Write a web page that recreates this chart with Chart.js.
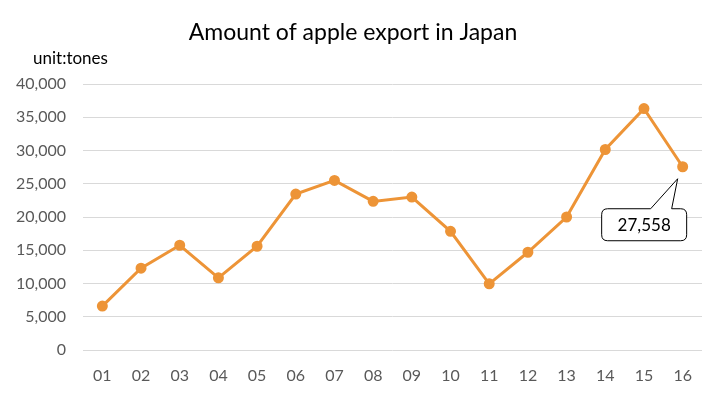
<!DOCTYPE html>
<html>
<head>
<meta charset="utf-8">
<script src="https://cdn.jsdelivr.net/npm/chart.js@4/dist/chart.umd.min.js"></script>
<style>
  html, body { margin: 0; padding: 0; background: #fff; }
  #wrap { width: 720px; height: 395px; }
</style>
</head>
<body>
<div id="wrap"><canvas id="exportChart"></canvas></div>
<script>
const years = ['01', '02', '03', '04', '05', '06', '07', '08', '09', '10', '11', '12', '13', '14', '15', '16'];
const tonnes = [6600, 12300, 15750, 10850, 15600, 23450, 25500, 22350, 23000, 17850, 9950, 14700, 20000, 30150, 36300, 27558];
const yTicks = [0, 5000, 10000, 15000, 20000, 25000, 30000, 35000, 40000];

const chartTitle = 'Amount of apple export in Japan';
const unitLabel = 'unit:tones';
const fontName = 'Lato, "Liberation Sans", sans-serif';

// titulo, unidade e o balao do ultimo ponto
const extras = {
    id: 'extras',
    afterDraw(chart) {
        const c = chart.ctx;
        c.save();
        c.fillStyle = '#000';
        c.textAlign = 'center';
        c.textBaseline = 'middle';
        c.font = '23px ' + fontName;
        c.fillText(chartTitle, 353, 33);
        c.textAlign = 'left';
        c.font = '17px ' + fontName;
        c.fillText(unitLabel, 33, 59);

        const last = tonnes.length - 1;
        const p = chart.getDatasetMeta(0).data[last];
        const l = p.x - 81, r = p.x + 4, t = p.y + 42, b = p.y + 74, rad = 6;
        c.beginPath();
        c.moveTo(l + rad, t);
        c.lineTo(p.x - 32, t);
        c.lineTo(p.x - 5, p.y + 12);
        c.lineTo(p.x - 11, t);
        c.lineTo(r - rad, t);
        c.quadraticCurveTo(r, t, r, t + rad);
        c.lineTo(r, b - rad);
        c.quadraticCurveTo(r, b, r - rad, b);
        c.lineTo(l + rad, b);
        c.quadraticCurveTo(l, b, l, b - rad);
        c.lineTo(l, t + rad);
        c.quadraticCurveTo(l, t, l + rad, t);
        c.closePath();
        c.fillStyle = '#fff';
        c.fill();
        c.strokeStyle = '#000';
        c.lineWidth = 1;
        c.stroke();
        c.fillStyle = '#000';
        c.textAlign = 'center';
        c.font = '17px ' + fontName;
        c.fillText(tonnes[last].toLocaleString('en-US'), (l + r) / 2, (t + b) / 2 + 1);
        c.restore();
    }
};

const ctx = document.getElementById('exportChart').getContext('2d');
new Chart(ctx, {
    type: 'line',
    data: {
        labels: years,
        datasets: [{
            data: tonnes,
            borderColor: '#ED9437',
            backgroundColor: '#ED9437',
            borderWidth: 3,
            pointRadius: 4,
            pointHoverRadius: 4,
            tension: 0
        }]
    },
    options: {
        responsive: true,
        maintainAspectRatio: false,
        animation: false,
        layout: { padding: { top: 84, right: 18, left: 0, bottom: 0 } },
        plugins: {
            legend: { display: false },
            title: { display: false },
            tooltip: { enabled: false }
        },
        scales: {
            x: {
                offset: true,
                grid: { display: false, drawTicks: false },
                border: { display: false },
                ticks: { color: '#595959', font: { family: fontName, size: 16 }, padding: 16 },
                afterFit(scale) { scale.height = 45; }
            },
            y: {
                min: 0,
                max: 40000,
                afterBuildTicks(scale) { scale.ticks = yTicks.map(v => ({ value: v })); },
                grid: { color: '#d9d9d9', drawTicks: false },
                border: { display: false },
                ticks: {
                    color: '#595959',
                    font: { family: fontName, size: 16 },
                    padding: 17,
                    callback: v => v.toLocaleString('en-US')
                },
                afterFit(scale) { scale.width = 83; }
            }
        }
    },
    plugins: [extras]
});
</script>
</body>
</html>
